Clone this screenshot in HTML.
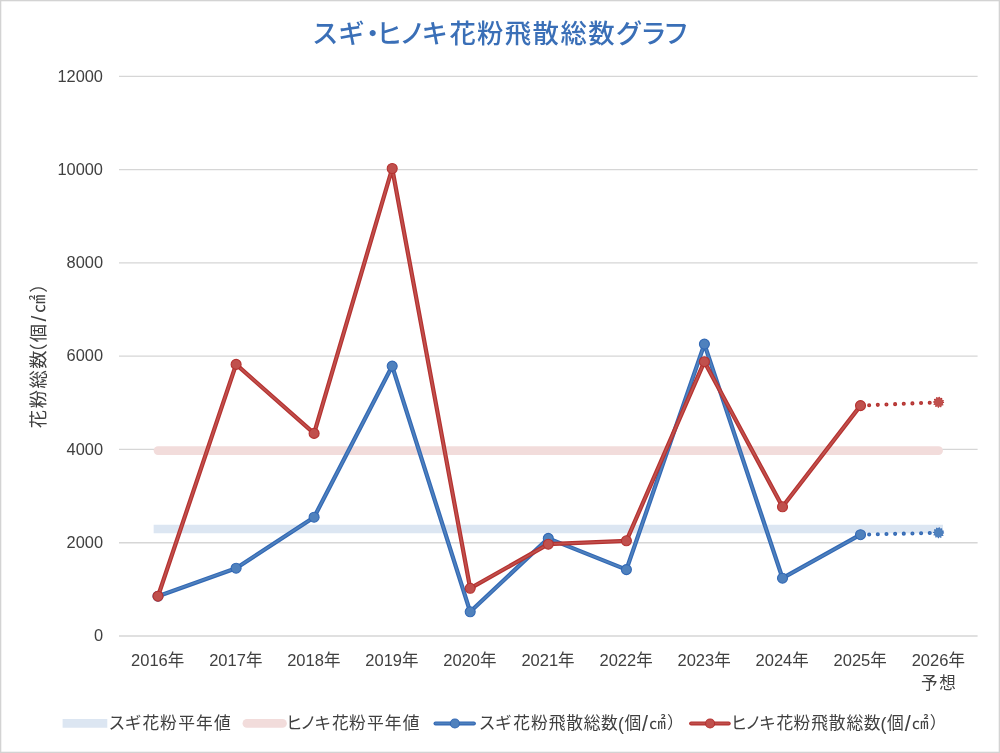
<!DOCTYPE html>
<html lang="ja"><head><meta charset="utf-8"><title>スギ・ヒノキ花粉飛散総数グラフ</title>
<style>html,body{margin:0;padding:0;background:#fff;}body{width:1000px;height:753px;overflow:hidden;}svg{display:block;}text{font-family:"Liberation Sans", "Noto Sans CJK JP", sans-serif;}</style></head><body>
<svg width="1000" height="753" viewBox="0 0 1000 753">
<rect x="0" y="0" width="1000" height="753" fill="#ffffff"/>
<rect x="0" y="0" width="1000" height="753" fill="none" stroke="#D3D3D3" stroke-width="2.6"/>
<text id="title" x="311.9 338.2 359.4 376.0 399.2 421.4 449.4 477.1 504.8 532.6 560.4 588.3 615.7 640.3 663.0" y="43.3" font-size="26.4" font-weight="500" fill="#3A6FB7">スギ・ヒノキ花粉飛散総数グラフ</text>
<line x1="119.0" y1="636.00" x2="977.6" y2="636.00" stroke="#D6D6D6" stroke-width="1.3"/>
<line x1="119.0" y1="542.73" x2="977.6" y2="542.73" stroke="#D6D6D6" stroke-width="1.3"/>
<line x1="119.0" y1="449.47" x2="977.6" y2="449.47" stroke="#D6D6D6" stroke-width="1.3"/>
<line x1="119.0" y1="356.20" x2="977.6" y2="356.20" stroke="#D6D6D6" stroke-width="1.3"/>
<line x1="119.0" y1="262.93" x2="977.6" y2="262.93" stroke="#D6D6D6" stroke-width="1.3"/>
<line x1="119.0" y1="169.67" x2="977.6" y2="169.67" stroke="#D6D6D6" stroke-width="1.3"/>
<line x1="119.0" y1="76.40" x2="977.6" y2="76.40" stroke="#D6D6D6" stroke-width="1.3"/>
<text x="103" y="641.1" font-size="16.4" fill="#404040" text-anchor="end">0</text>
<text x="103" y="547.8" font-size="16.4" fill="#404040" text-anchor="end">2000</text>
<text x="103" y="454.6" font-size="16.4" fill="#404040" text-anchor="end">4000</text>
<text x="103" y="361.3" font-size="16.4" fill="#404040" text-anchor="end">6000</text>
<text x="103" y="268.0" font-size="16.4" fill="#404040" text-anchor="end">8000</text>
<text x="103" y="174.8" font-size="16.4" fill="#404040" text-anchor="end">10000</text>
<text x="103" y="81.5" font-size="16.4" fill="#404040" text-anchor="end">12000</text>
<text id="ytitle" x="-428.2 -408.3 -388.6 -368.8 -361.8 -342.3 -321.5 -313.1 -292.8" y="0.0 0.0 0.0 0.0 0.0 0.0 1.0 0.0 0.0" font-size="18.3" font-weight="400" fill="#404040" transform="translate(45.05,0) rotate(-90)">花粉総数（個<tspan font-size="21">/</tspan>㎠）</text>
<text x="131.1" y="665.7" font-size="16.5" fill="#404040">2016年</text>
<text x="209.2" y="665.7" font-size="16.5" fill="#404040">2017年</text>
<text x="287.2" y="665.7" font-size="16.5" fill="#404040">2018年</text>
<text x="365.3" y="665.7" font-size="16.5" fill="#404040">2019年</text>
<text x="443.3" y="665.7" font-size="16.5" fill="#404040">2020年</text>
<text x="521.4" y="665.7" font-size="16.5" fill="#404040">2021年</text>
<text x="599.5" y="665.7" font-size="16.5" fill="#404040">2022年</text>
<text x="677.5" y="665.7" font-size="16.5" fill="#404040">2023年</text>
<text x="755.6" y="665.7" font-size="16.5" fill="#404040">2024年</text>
<text x="833.6" y="665.7" font-size="16.5" fill="#404040">2025年</text>
<text x="911.7" y="665.7" font-size="16.5" fill="#404040">2026年</text>
<text id="yoso" x="921.0 939.3" y="688.5" font-size="16.6" font-weight="400" fill="#404040">予想</text>
<line x1="158.0" y1="529" x2="938.6" y2="529" stroke="#DCE6F2" stroke-width="8.7" stroke-linecap="square"/>
<line x1="158.0" y1="450.6" x2="938.6" y2="450.6" stroke="#F2DCDB" stroke-width="8.7" stroke-linecap="round"/>
<polyline points="158.0,596.2 236.1,568.2 314.1,517.2 392.2,366.1 470.2,611.8 548.3,538.4 626.4,569.6 704.4,344.1 782.5,578.2 860.5,534.7" fill="none" stroke="#3369B5" stroke-width="4.25" stroke-linejoin="round" stroke-linecap="round"/>
<polyline points="158.0,596.2 236.1,568.2 314.1,517.2 392.2,366.1 470.2,611.8 548.3,538.4 626.4,569.6 704.4,344.1 782.5,578.2 860.5,534.7" fill="none" stroke="#4F81BD" stroke-width="1.8" stroke-linejoin="round" stroke-linecap="round"/>
<line x1="860.5" y1="534.7" x2="938.6" y2="532.8" stroke="#3369B5" stroke-width="4.1" stroke-linecap="round" stroke-dasharray="0 8.66"/>
<line x1="860.5" y1="534.7" x2="938.6" y2="532.8" stroke="#4F81BD" stroke-width="1.5" stroke-linecap="round" stroke-dasharray="0 8.66"/>
<circle cx="158.0" cy="596.2" r="5" fill="#4F81BD" stroke="#3369B5" stroke-width="1.1"/>
<circle cx="236.1" cy="568.2" r="5" fill="#4F81BD" stroke="#3369B5" stroke-width="1.1"/>
<circle cx="314.1" cy="517.2" r="5" fill="#4F81BD" stroke="#3369B5" stroke-width="1.1"/>
<circle cx="392.2" cy="366.1" r="5" fill="#4F81BD" stroke="#3369B5" stroke-width="1.1"/>
<circle cx="470.2" cy="611.8" r="5" fill="#4F81BD" stroke="#3369B5" stroke-width="1.1"/>
<circle cx="548.3" cy="538.4" r="5" fill="#4F81BD" stroke="#3369B5" stroke-width="1.1"/>
<circle cx="626.4" cy="569.6" r="5" fill="#4F81BD" stroke="#3369B5" stroke-width="1.1"/>
<circle cx="704.4" cy="344.1" r="5" fill="#4F81BD" stroke="#3369B5" stroke-width="1.1"/>
<circle cx="782.5" cy="578.2" r="5" fill="#4F81BD" stroke="#3369B5" stroke-width="1.1"/>
<circle cx="860.5" cy="534.7" r="5" fill="#4F81BD" stroke="#3369B5" stroke-width="1.1"/>
<circle cx="938.6" cy="532.8" r="4.7" fill="#4F81BD"/>
<circle cx="938.6" cy="532.8" r="4.85" fill="none" stroke="#3369B5" stroke-width="1.35" stroke-linecap="round" stroke-dasharray="0.1 2.439"/>
<polyline points="158.0,596.2 236.1,364.4 314.1,433.4 392.2,168.5 470.2,588.3 548.3,544.2 626.4,540.8 704.4,361.7 782.5,506.8 860.5,405.6" fill="none" stroke="#B53230" stroke-width="4.25" stroke-linejoin="round" stroke-linecap="round"/>
<polyline points="158.0,596.2 236.1,364.4 314.1,433.4 392.2,168.5 470.2,588.3 548.3,544.2 626.4,540.8 704.4,361.7 782.5,506.8 860.5,405.6" fill="none" stroke="#C0504D" stroke-width="1.8" stroke-linejoin="round" stroke-linecap="round"/>
<line x1="860.5" y1="405.6" x2="938.6" y2="402.3" stroke="#B53230" stroke-width="4.1" stroke-linecap="round" stroke-dasharray="0 8.66"/>
<line x1="860.5" y1="405.6" x2="938.6" y2="402.3" stroke="#C0504D" stroke-width="1.5" stroke-linecap="round" stroke-dasharray="0 8.66"/>
<circle cx="158.0" cy="596.2" r="5" fill="#C0504D" stroke="#B53230" stroke-width="1.1"/>
<circle cx="236.1" cy="364.4" r="5" fill="#C0504D" stroke="#B53230" stroke-width="1.1"/>
<circle cx="314.1" cy="433.4" r="5" fill="#C0504D" stroke="#B53230" stroke-width="1.1"/>
<circle cx="392.2" cy="168.5" r="5" fill="#C0504D" stroke="#B53230" stroke-width="1.1"/>
<circle cx="470.2" cy="588.3" r="5" fill="#C0504D" stroke="#B53230" stroke-width="1.1"/>
<circle cx="548.3" cy="544.2" r="5" fill="#C0504D" stroke="#B53230" stroke-width="1.1"/>
<circle cx="626.4" cy="540.8" r="5" fill="#C0504D" stroke="#B53230" stroke-width="1.1"/>
<circle cx="704.4" cy="361.7" r="5" fill="#C0504D" stroke="#B53230" stroke-width="1.1"/>
<circle cx="782.5" cy="506.8" r="5" fill="#C0504D" stroke="#B53230" stroke-width="1.1"/>
<circle cx="860.5" cy="405.6" r="5" fill="#C0504D" stroke="#B53230" stroke-width="1.1"/>
<circle cx="938.6" cy="402.3" r="4.7" fill="#C0504D"/>
<circle cx="938.6" cy="402.3" r="4.85" fill="none" stroke="#B53230" stroke-width="1.35" stroke-linecap="round" stroke-dasharray="0.1 2.439"/>
<line x1="62.6" y1="723.4" x2="107.3" y2="723.4" stroke="#DCE6F2" stroke-width="8.7"/>
<text id="lg1" x="108.5 124.7 142.6 160.1 178.3 195.9 213.9" y="729.3" font-size="16.8" font-weight="400" fill="#404040">スギ花粉平年値</text>
<line x1="246.9" y1="723.4" x2="282.5" y2="723.4" stroke="#F2DCDB" stroke-width="8.7" stroke-linecap="round"/>
<text id="lg2" x="285.7 300.0 314.3 332.0 349.1 367.1 384.7 402.7" y="729.3" font-size="16.8" font-weight="400" fill="#404040">ヒノキ花粉平年値</text>
<line x1="435.5" y1="723.4" x2="473.9" y2="723.4" stroke="#3369B5" stroke-width="4" stroke-linecap="round"/>
<line x1="435.5" y1="723.4" x2="473.9" y2="723.4" stroke="#4F81BD" stroke-width="1.8" stroke-linecap="round"/>
<circle cx="454.9" cy="723.5" r="4.5" fill="#4F81BD" stroke="#3369B5" stroke-width="1.1"/>
<text id="lg3" x="478.7 495.1 513.2 531.0 548.7 566.2 583.7 601.1 617.9 624.4 642.1 649.1 667.1" y="729.3 729.3 729.3 729.3 729.3 729.3 729.3 729.3 729.9 729.3 730.5 729.3 729.3" font-size="16.8" font-weight="400" fill="#404040">スギ花粉飛散総数<tspan font-size="17.6">(</tspan>個<tspan font-size="21.5">/</tspan>㎠）</text>
<line x1="691.1" y1="723.4" x2="728.7" y2="723.4" stroke="#B53230" stroke-width="4" stroke-linecap="round"/>
<line x1="691.1" y1="723.4" x2="728.7" y2="723.4" stroke="#C0504D" stroke-width="1.8" stroke-linecap="round"/>
<circle cx="710.1" cy="723.5" r="4.5" fill="#C0504D" stroke="#B53230" stroke-width="1.1"/>
<text id="lg4" x="730.4 744.9 758.9 776.6 793.6 811.2 828.8 846.4 863.8 880.6 887.1 904.8 911.8 929.8" y="729.3 729.3 729.3 729.3 729.3 729.3 729.3 729.3 729.3 729.9 729.3 730.5 729.3 729.3" font-size="16.8" font-weight="400" fill="#404040">ヒノキ花粉飛散総数<tspan font-size="17.6">(</tspan>個<tspan font-size="21.5">/</tspan>㎠）</text>
</svg></body></html>
